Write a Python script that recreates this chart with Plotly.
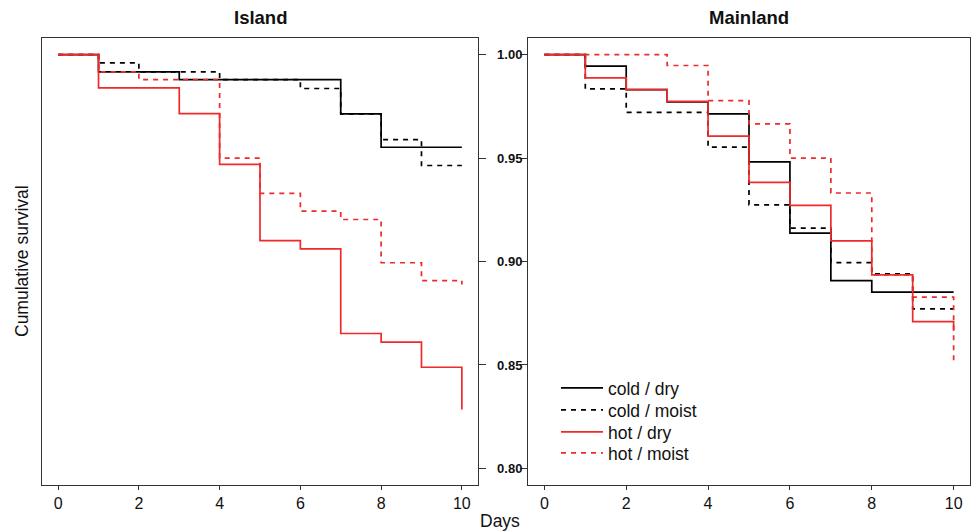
import plotly.graph_objects as go

days = [0, 1, 2, 3, 4, 5, 6, 7, 8, 9, 10]

island_cold_dry = [1.0, 0.9916, 0.9916, 0.9879, 0.9879, 0.9879, 0.9879, 0.9713, 0.9552, 0.9552, 0.9552]
island_cold_moist = [1.0, 0.996, 0.9916, 0.9916, 0.9879, 0.9879, 0.9836, 0.9713, 0.9589, 0.9464, 0.9464]
island_hot_dry = [1.0, 0.9839, 0.9839, 0.9715, 0.9469, 0.9101, 0.9061, 0.8652, 0.861, 0.8489, 0.8285]
island_hot_moist = [1.0, 0.9916, 0.9879, 0.9879, 0.950, 0.9329, 0.9243, 0.9203, 0.8994, 0.8908, 0.8889]

main_cold_dry = [1.0, 0.9944, 0.9831, 0.9771, 0.9713, 0.9481, 0.9137, 0.8908, 0.8852, 0.8852, 0.8852]
main_cold_moist = [1.0, 0.9834, 0.9721, 0.9721, 0.9553, 0.9274, 0.9161, 0.8995, 0.894, 0.8771, 0.8771]
main_hot_dry = [1.0, 0.9887, 0.9831, 0.9774, 0.9606, 0.9382, 0.9271, 0.910, 0.8935, 0.8709, 0.8665]
main_hot_moist = [1.0, 1.0, 1.0, 0.9947, 0.9777, 0.9665, 0.950, 0.9331, 0.8935, 0.8828, 0.8518]

group_names = ["cold / dry", "cold / moist", "hot / dry", "hot / moist"]
x_ticks = [0, 2, 4, 6, 8, 10]
y_ticks = [0.80, 0.85, 0.90, 0.95, 1.00]
y_tick_labels = ["0.80", "0.85", "0.90", "0.95", "1.00"]

RED = "#EE2A2A"
BLACK = "#000000"
styles = [(BLACK, "solid"), (BLACK, "5px,5px"), (RED, "solid"), (RED, "5px,5px")]

FONT = "Liberation Sans, Arial, Helvetica, sans-serif"
W, H = 972, 531

def px_x(p):
    return p / W

def px_y(p):
    return (H - p) / H

fig = go.Figure()

island = [island_cold_dry, island_cold_moist, island_hot_dry, island_hot_moist]
mainland = [main_cold_dry, main_cold_moist, main_hot_dry, main_hot_moist]
legend_ids = ["legend", "legend2", "legend3", "legend4"]
legend_rows = [388, 410, 432, 453]

for name, vals, (col, dash) in zip(group_names, island, styles):
    fig.add_trace(go.Scatter(x=days, y=vals, mode="lines", line_shape="hv",
                             line=dict(color=col, dash=dash, width=1.7),
                             name=name, showlegend=False, xaxis="x", yaxis="y"))
for name, vals, (col, dash), lid in zip(group_names, mainland, styles, legend_ids):
    fig.add_trace(go.Scatter(x=days, y=vals, mode="lines", line_shape="hv",
                             line=dict(color=col, dash=dash, width=1.7),
                             name=name, showlegend=True, legend=lid,
                             xaxis="x2", yaxis="y2"))

frame_top, frame_bot = 38, 485
ydom = [px_y(frame_bot), px_y(frame_top)]

common_x = dict(range=[-0.4, 10.4], tickvals=x_ticks, ticks="outside", ticklen=4,
                tickcolor="#333", showline=True, linecolor="#333", linewidth=1,
                mirror=True, showgrid=False, zeroline=False,
                tickfont=dict(family=FONT, size=16, color="#111"))
common_y = dict(range=[0.792, 1.008], tickvals=y_ticks, ticktext=y_tick_labels,
                ticks="outside", ticklen=7, tickcolor="#333", showline=True,
                linecolor="#333", linewidth=1, mirror=True, showgrid=False,
                zeroline=False, domain=ydom)

legend_style = dict(xanchor="left", yanchor="middle", bgcolor="rgba(0,0,0,0)",
                    font=dict(family=FONT, size=17.5, color="#111"),
                    itemwidth=42, borderwidth=0)
legends = {lid: dict(x=px_x(556), y=px_y(row), **legend_style)
           for lid, row in zip(legend_ids, legend_rows)}

fig.update_layout(
    width=W, height=H,
    margin=dict(l=0, r=0, t=0, b=0),
    paper_bgcolor="white", plot_bgcolor="white",
    xaxis=dict(domain=[px_x(42), px_x(478)], anchor="y", **common_x),
    yaxis=dict(anchor="x", side="right", showticklabels=False, **common_y),
    xaxis2=dict(domain=[px_x(528), px_x(970)], anchor="y2", **common_x),
    yaxis2=dict(anchor="x2", side="left", showticklabels=True, ticklabelstandoff=-5,
                tickfont=dict(family=FONT, size=13, color="#111", weight="bold"),
                **common_y),
    font=dict(family=FONT),
    annotations=[
        dict(text="<b>Island</b>", x=px_x(260), y=px_y(17), xref="paper", yref="paper",
             xanchor="center", yanchor="middle",
             showarrow=False, font=dict(family=FONT, size=18.5, color="#111")),
        dict(text="<b>Mainland</b>", x=px_x(749), y=px_y(17), xref="paper", yref="paper",
             xanchor="center", yanchor="middle",
             showarrow=False, font=dict(family=FONT, size=18.5, color="#111")),
        dict(text="Days", x=px_x(500), y=px_y(521), xref="paper", yref="paper",
             xanchor="center", yanchor="middle",
             showarrow=False, font=dict(family=FONT, size=17.5, color="#111")),
        dict(text="Cumulative survival", x=px_x(22), y=px_y(261), xref="paper", yref="paper",
             xanchor="center", yanchor="middle",
             showarrow=False, textangle=-90, font=dict(family=FONT, size=17.5, color="#111")),
    ],
    **legends,
)

fig.write_html("out.html", config={"displayModeBar": False},
               post_script="document.body.style.margin='0';document.body.style.overflow='hidden';")
